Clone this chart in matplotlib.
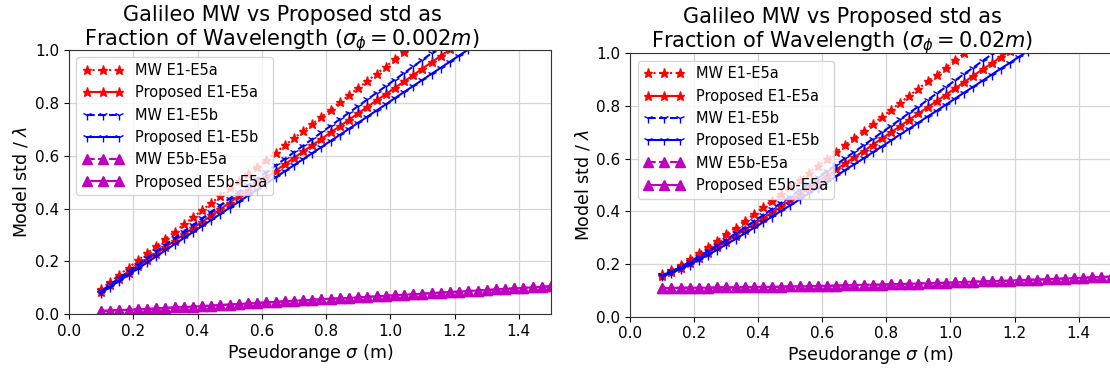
import matplotlib
matplotlib.use('Agg')
import matplotlib.pyplot as plt

# ---- data ----
x_sigma = [0.1, 0.1286, 0.1571, 0.1857, 0.2143, 0.2429, 0.2714, 0.3, 0.3286, 0.3571,
           0.3857, 0.4143, 0.4429, 0.4714, 0.5, 0.5286, 0.5571, 0.5857, 0.6143, 0.6429,
           0.6714, 0.7, 0.7286, 0.7571, 0.7857, 0.8143, 0.8429, 0.8714, 0.9, 0.9286,
           0.9571, 0.9857, 1.0143, 1.0429, 1.0714, 1.1, 1.1286, 1.1571, 1.1857, 1.2143,
           1.2429, 1.2714, 1.3, 1.3286, 1.3571, 1.3857, 1.4143, 1.4429, 1.4714, 1.5]

# left panel: sigma_phi = 0.002 m
left_mw_e1e5a = [0.096, 0.123, 0.150, 0.177, 0.204, 0.231, 0.258, 0.285, 0.312, 0.340,
                 0.367, 0.394, 0.421, 0.448, 0.476, 0.503, 0.530, 0.557, 0.584, 0.611,
                 0.639, 0.666, 0.693, 0.720, 0.747, 0.774, 0.802, 0.829, 0.856, 0.883,
                 0.910, 0.937, 0.965, 0.992, 1.019]
left_prop_e1e5a = [0.085, 0.109, 0.133, 0.157, 0.181, 0.205, 0.229, 0.254, 0.278, 0.302,
                   0.326, 0.350, 0.374, 0.398, 0.423, 0.447, 0.471, 0.495, 0.519, 0.543,
                   0.567, 0.592, 0.616, 0.640, 0.664, 0.688, 0.712, 0.736, 0.761, 0.785,
                   0.809, 0.833, 0.857, 0.881, 0.905, 0.930, 0.954, 0.978, 1.002, 1.026]
left_mw_e1e5b = [0.088, 0.113, 0.138, 0.163, 0.188, 0.213, 0.238, 0.263, 0.288, 0.313,
                 0.338, 0.363, 0.388, 0.413, 0.438, 0.463, 0.488, 0.513, 0.538, 0.563,
                 0.588, 0.613, 0.638, 0.663, 0.688, 0.713, 0.738, 0.763, 0.788, 0.813,
                 0.838, 0.863, 0.888, 0.913, 0.938, 0.963, 0.988, 1.013]
left_prop_e1e5b = [0.081, 0.104, 0.127, 0.150, 0.173, 0.196, 0.219, 0.242, 0.265, 0.288,
                   0.311, 0.334, 0.357, 0.380, 0.403, 0.426, 0.449, 0.472, 0.495, 0.518,
                   0.541, 0.564, 0.587, 0.610, 0.633, 0.656, 0.679, 0.702, 0.725, 0.748,
                   0.771, 0.794, 0.818, 0.841, 0.864, 0.887, 0.910, 0.933, 0.956, 0.979,
                   1.002, 1.025]
left_e5be5a = [0.013, 0.014, 0.016, 0.017, 0.019, 0.020, 0.022, 0.024, 0.026, 0.027,
               0.029, 0.031, 0.033, 0.035, 0.037, 0.039, 0.041, 0.043, 0.045, 0.047,
               0.049, 0.051, 0.053, 0.055, 0.057, 0.059, 0.060, 0.062, 0.064, 0.066,
               0.068, 0.070, 0.072, 0.074, 0.076, 0.078, 0.080, 0.082, 0.084, 0.086,
               0.088, 0.090, 0.092, 0.094, 0.096, 0.098, 0.100, 0.102, 0.104, 0.106]

# right panel: sigma_phi = 0.02 m
right_mw_e1e5a = [0.161, 0.178, 0.198, 0.219, 0.242, 0.265, 0.289, 0.314, 0.338, 0.364,
                  0.389, 0.415, 0.441, 0.467, 0.493, 0.519, 0.546, 0.572, 0.598, 0.625,
                  0.652, 0.678, 0.705, 0.732, 0.758, 0.785, 0.812, 0.839, 0.866, 0.893,
                  0.919, 0.946, 0.973, 1.000, 1.027]
right_prop_e1e5a = [0.155, 0.169, 0.186, 0.204, 0.223, 0.243, 0.264, 0.285, 0.307, 0.329,
                    0.351, 0.373, 0.396, 0.419, 0.442, 0.465, 0.488, 0.512, 0.535, 0.559,
                    0.582, 0.606, 0.629, 0.653, 0.677, 0.700, 0.724, 0.748, 0.772, 0.795,
                    0.819, 0.843, 0.867, 0.891, 0.915, 0.939, 0.962, 0.986, 1.010, 1.034]
right_mw_e1e5b = [0.157, 0.172, 0.189, 0.208, 0.228, 0.249, 0.271, 0.293, 0.316, 0.338,
                  0.362, 0.385, 0.409, 0.433, 0.456, 0.480, 0.505, 0.529, 0.553, 0.577,
                  0.602, 0.626, 0.651, 0.675, 0.700, 0.724, 0.749, 0.774, 0.798, 0.823,
                  0.848, 0.872, 0.897, 0.922, 0.946, 0.971, 0.996, 1.021]
right_prop_e1e5b = [0.153, 0.166, 0.181, 0.198, 0.216, 0.235, 0.254, 0.275, 0.295, 0.316,
                    0.337, 0.358, 0.380, 0.402, 0.423, 0.445, 0.468, 0.490, 0.512, 0.534,
                    0.557, 0.579, 0.601, 0.624, 0.646, 0.669, 0.692, 0.714, 0.737, 0.760,
                    0.782, 0.805, 0.828, 0.851, 0.873, 0.896, 0.919, 0.942, 0.964, 0.987,
                    1.010, 1.033]
right_e5be5a = [0.109, 0.109, 0.110, 0.110, 0.110, 0.110, 0.111, 0.111, 0.111, 0.112,
                0.112, 0.113, 0.113, 0.114, 0.115, 0.115, 0.116, 0.117, 0.117, 0.118,
                0.119, 0.120, 0.121, 0.121, 0.122, 0.123, 0.124, 0.125, 0.126, 0.127,
                0.128, 0.129, 0.130, 0.132, 0.133, 0.134, 0.135, 0.136, 0.137, 0.139,
                0.140, 0.141, 0.142, 0.144, 0.145, 0.146, 0.148, 0.149, 0.151, 0.152]

series_labels = ['MW E1-E5a', 'Proposed E1-E5a', 'MW E1-E5b', 'Proposed E1-E5b',
                 'MW E5b-E5a', 'Proposed E5b-E5a']
titles = ['Galileo MW vs Proposed std as\nFraction of Wavelength ($\\sigma_\\phi = 0.002m$)',
          'Galileo MW vs Proposed std as\nFraction of Wavelength ($\\sigma_\\phi = 0.02m$)']
x_ticks = [0.0, 0.2, 0.4, 0.6, 0.8, 1.0, 1.2, 1.4]
y_ticks = [0.0, 0.2, 0.4, 0.6, 0.8, 1.0]

panels = [
    [left_mw_e1e5a, left_prop_e1e5a, left_mw_e1e5b, left_prop_e1e5b, left_e5be5a, left_e5be5a],
    [right_mw_e1e5a, right_prop_e1e5a, right_mw_e1e5b, right_prop_e1e5b, right_e5be5a, right_e5be5a],
]

styles = [
    dict(color='r', ls=':', marker='*', ms=6.5),
    dict(color='r', ls='-', marker='*', ms=6.5),
    dict(color='b', ls='--', marker='1', ms=7),
    dict(color='b', ls='-', marker='1', ms=7),
    dict(color='m', ls='--', marker='^', ms=7),
    dict(color='m', ls='-', marker='^', ms=7),
]

W, H = 1110, 372
fig = plt.figure(figsize=(W / 100, H / 100), dpi=100)

# axes boxes in pixels: (left, right, top, bottom)
boxes = [(69, 551, 50, 314.3), (630.3, 1110.6, 53.3, 316.7)]
title_pos = [(282, 45.5), (842, 47)]

for k in range(2):
    l, r, t, b = boxes[k]
    ax = fig.add_axes([l / W, (H - b) / H, (r - l) / W, (b - t) / H])
    for ys, lab, st in zip(panels[k], series_labels, styles):
        ax.plot(x_sigma[:len(ys)], ys, label=lab, lw=1.5, **st)
    ax.set_xlim(0, 1.5)
    ax.set_ylim(0, 1.0)
    ax.set_xticks(x_ticks)
    ax.set_yticks(y_ticks)
    ax.tick_params(labelsize=11)
    ax.grid(True, color='#d5d5d5', lw=0.9)
    for sp in ax.spines.values():
        sp.set_color('#333333')
    ax.set_xlabel('Pseudorange $\\sigma$ (m)', fontsize=12.5, labelpad=2)
    ax.set_ylabel('Model std / $\\lambda$', fontsize=12.5, labelpad=3)
    ax.legend(loc='upper left', fontsize=10.5, numpoints=3, handlelength=2.8)
    tx, ty = title_pos[k]
    fig.text(tx / W, (H - ty) / H, titles[k], ha='center', va='baseline',
             fontsize=15, multialignment='center', linespacing=1.1)

fig.savefig('out.png', dpi=100)
